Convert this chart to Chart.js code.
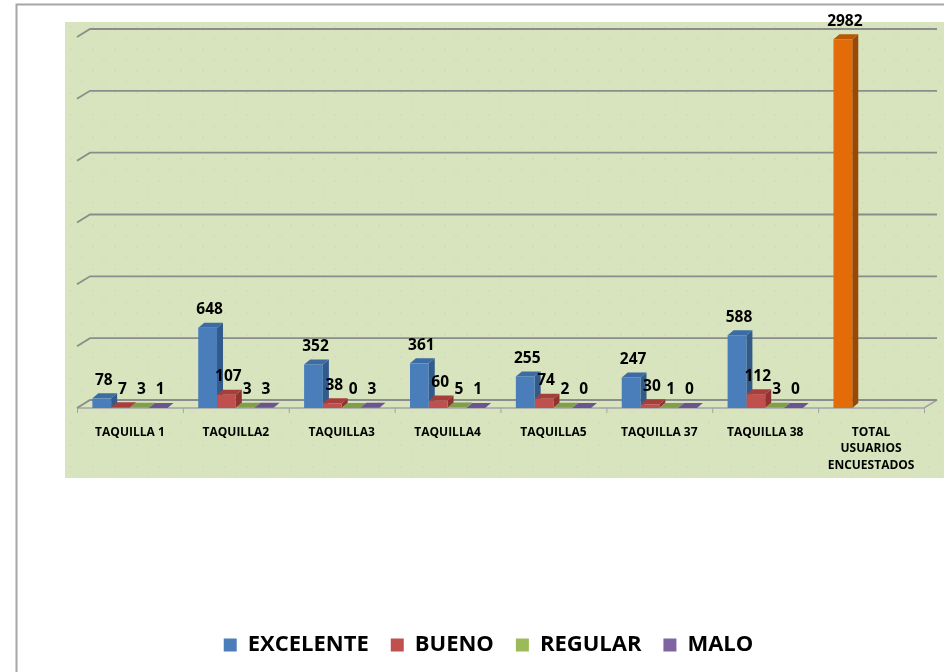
<!DOCTYPE html>
<html><head><meta charset="utf-8">
<script src="https://cdn.jsdelivr.net/npm/chart.js@4/dist/chart.umd.min.js"></script>
<style>html,body{margin:0;padding:0;background:#fff;overflow:hidden}#wrap{width:944px;height:672px;position:relative}</style>
</head><body><div id="wrap"><canvas id="c" width="944" height="672"></canvas></div>
<script>
// ---- data ----
const categories = ['TAQUILLA 1','TAQUILLA2','TAQUILLA3','TAQUILLA4','TAQUILLA5','TAQUILLA 37','TAQUILLA 38',['TOTAL','USUARIOS','ENCUESTADOS']];
const seriesNames = ['EXCELENTE','BUENO','REGULAR','MALO'];
const excelente = [78,648,352,361,255,247,588,2982];
const bueno = [7,107,38,60,74,30,112,null];
const regular = [3,3,0,5,2,1,3,null];
const malo = [1,3,3,1,0,0,0,null];
const yTicks = [0,500,1000,1500,2000,2500,3000];

// ---- styles ----
const frontColors = ['#4a7ebb','#c0504d','#9bbb59','#8064a2'];
const sideColors  = ['#325b8c','#8f3431','#6f8a3b','#5b4778'];
const topColors   = ['#3d6ba3','#a63f3c','#809f48','#6b5590'];
const totalFront = '#e36c09', totalSide = '#994806', totalTop = '#b85805';
const FONT = '"Open Sans", Lato, "Liberation Sans", sans-serif';
const BAR_DX = 6, BAR_DY = 5, WALL_DX = 13, WALL_DY = 8;

function isTotal(ds, idx){ return ds === 0 && idx === categories.length - 1; }

const bgPlugin = {
  id:'bg',
  beforeDraw(chart){
    const ctx = chart.ctx, a = chart.chartArea;
    ctx.save();
    ctx.fillStyle = '#fff';
    ctx.fillRect(0,0,chart.width,chart.height);
    const pc = document.createElement('canvas'); pc.width = 22; pc.height = 22;
    const p = pc.getContext('2d');
    p.fillStyle = '#d7e4bd'; p.fillRect(0,0,22,22);
    p.fillStyle = '#dcd6c6'; p.fillRect(4,4,2,2); p.fillRect(15,15,2,2);
    ctx.fillStyle = ctx.createPattern(pc,'repeat');
    ctx.fillRect(a.left-12, a.top-15, chart.width-(a.left-12), (a.bottom+70)-(a.top-15));
    ctx.strokeStyle = '#a6a6a6'; ctx.lineWidth = 2;
    ctx.beginPath(); ctx.moveTo(16.5, chart.height); ctx.lineTo(16.5, 4.5); ctx.lineTo(chart.width, 4.5); ctx.stroke();
    ctx.restore();
  }
};

const wallPlugin = {
  id:'walls',
  beforeDatasetsDraw(chart){
    const ctx = chart.ctx, a = chart.chartArea, y = chart.scales.y;
    ctx.save();
    const y0 = y.getPixelForValue(0);
    ctx.strokeStyle = '#a3a3a3'; ctx.lineWidth = 1.5;
    ctx.beginPath();
    ctx.moveTo(a.left, y0); ctx.lineTo(a.right, y0); ctx.lineTo(a.right+WALL_DX, y0-WALL_DY);
    ctx.stroke();
    ctx.lineWidth = 1;
    for (let i = 0; i <= categories.length; i++){
      const px = a.left + (a.right - a.left) * i / categories.length;
      ctx.beginPath(); ctx.moveTo(px+0.5, y0); ctx.lineTo(px+0.5, y0+5); ctx.stroke();
    }
    ctx.strokeStyle = '#8c8c8c'; ctx.lineWidth = 1.8;
    yTicks.forEach(v => {
      const py = y.getPixelForValue(v);
      ctx.beginPath();
      ctx.moveTo(a.left, py); ctx.lineTo(a.left+WALL_DX, py-WALL_DY); ctx.lineTo(a.right+WALL_DX, py-WALL_DY);
      ctx.stroke();
    });
    ctx.restore();
  }
};

const depthPlugin = {
  id:'depth',
  beforeDatasetsDraw(chart){
    const ctx = chart.ctx;
    ctx.save();
    const pass = (face) => {
      chart.data.datasets.forEach((ds, di) => {
        const meta = chart.getDatasetMeta(di);
        meta.data.forEach((el, idx) => {
          const v = ds.data[idx];
          if (v === null || v === undefined) return;
          const l = el.x - el.width/2, r = el.x + el.width/2, t = el.y, b = el.base;
          ctx.beginPath();
          if (face === 'side'){
            ctx.fillStyle = isTotal(di, idx) ? totalSide : sideColors[di];
            ctx.moveTo(r, t); ctx.lineTo(r+BAR_DX, t-BAR_DY); ctx.lineTo(r+BAR_DX, b-BAR_DY); ctx.lineTo(r, b);
          } else {
            ctx.fillStyle = isTotal(di, idx) ? totalTop : topColors[di];
            ctx.moveTo(l, t); ctx.lineTo(l+BAR_DX, t-BAR_DY); ctx.lineTo(r+BAR_DX, t-BAR_DY); ctx.lineTo(r, t);
          }
          ctx.closePath(); ctx.fill();
        });
      });
    };
    pass('side'); pass('top');
    ctx.restore();
  }
};

const labelPlugin = {
  id:'labels',
  afterDatasetsDraw(chart){
    const ctx = chart.ctx;
    ctx.save();
    ctx.font = 'bold 15.5px ' + FONT;
    ctx.fillStyle = '#000'; ctx.textAlign = 'center'; ctx.textBaseline = 'middle';
    chart.data.datasets.forEach((ds, di) => {
      chart.getDatasetMeta(di).data.forEach((el, idx) => {
        const v = ds.data[idx];
        if (v === null || v === undefined) return;
        ctx.fillText(String(v), el.x + 2, el.y - 18);
      });
    });
    ctx.restore();
  }
};

const seriesData = [excelente, bueno, regular, malo];
const datasets = seriesData.map((d, i) => ({
  label: seriesNames[i],
  data: d,
  backgroundColor: (c) => (isTotal(i, c.dataIndex) ? totalFront : frontColors[i]),
  borderWidth: 0,
  categoryPercentage: 0.71,
  barPercentage: 1.0
}));

new Chart(document.getElementById('c'), {
  type:'bar',
  data:{ labels: categories, datasets },
  options:{
    responsive:false, animation:false,
    layout:{ padding:{ left:53, right:20, top:37, bottom:6 } },
    plugins:{
      legend:{ position:'bottom',
        labels:{ boxWidth:13, boxHeight:13, padding:22, color:'#000',
          font:{ family:FONT, weight:'bold', size:22 } } },
      tooltip:{ enabled:false }
    },
    scales:{
      x:{ grid:{ display:false }, border:{ display:false },
          ticks:{ color:'#000', padding:8, maxRotation:0, autoSkip:false,
                  font:{ family:FONT, weight:'bold', size:12, lineHeight:1.38 } },
          afterFit:(s)=>{ s.height = 204; } },
      y:{ min:0, max:3000, display:true,
          grid:{ display:false }, border:{ display:false }, ticks:{ display:false },
          afterFit:(s)=>{ s.width = 24; } }
    }
  },
  plugins:[bgPlugin, wallPlugin, depthPlugin, labelPlugin]
});
</script></body></html>
